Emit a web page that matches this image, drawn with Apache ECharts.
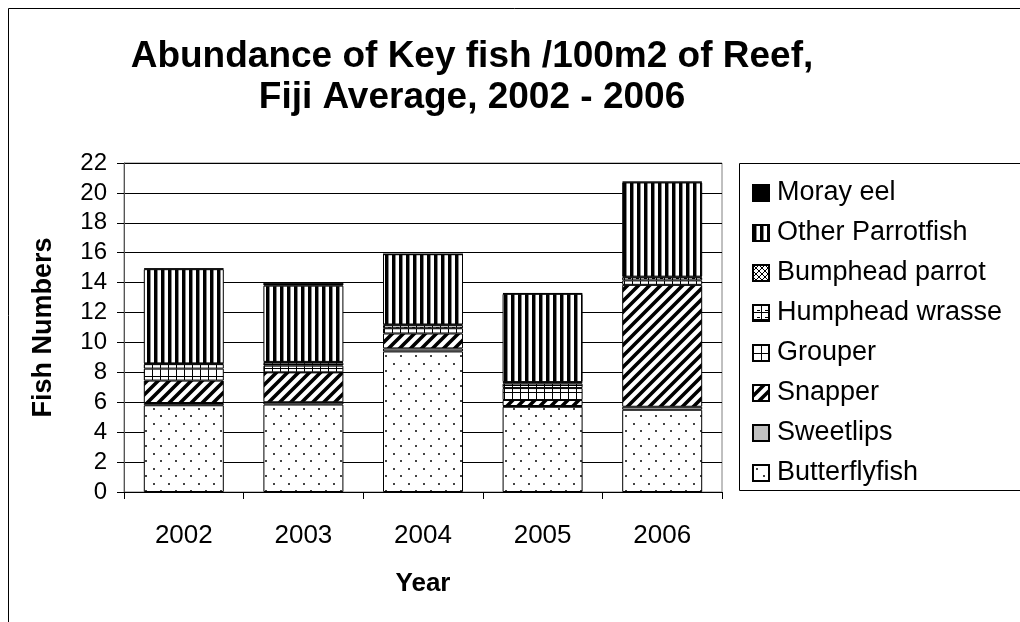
<!DOCTYPE html>
<html>
<head>
<meta charset="utf-8">
<script src="https://cdn.jsdelivr.net/npm/echarts@6/dist/echarts.min.js"></script>
<style>
  html, body { margin: 0; padding: 0; background: #fff; }
  #chart { width: 1020px; height: 622px; }
</style>
</head>
<body>
<div id="chart"></div>
<script>
const years = ['2002', '2003', '2004', '2005', '2006']
// stacked from the bottom up
const butterflyfish = [5.8, 5.85, 9.4, 5.7, 5.5]
const sweetlips = [0.15, 0.15, 0.2, 0.05, 0.2]
const snapper = [1.5, 2.0, 1.0, 0.4, 8.15]
const grouper = [0.8, 0.45, 0.35, 0.8, 0.3]
const humpheadWrasse = [0.3, 0.2, 0.2, 0.3, 0.2]
const bumpheadParrot = [0.05, 0.05, 0.05, 0.1, 0.05]
const otherParrotfish = [6.3, 5.1, 4.7, 5.9, 6.3]
const morayEel = [0.05, 0.2, 0.0, 0.05, 0.05]
const legendOrder = ['Moray eel', 'Other Parrotfish', 'Bumphead parrot', 'Humphead wrasse', 'Grouper', 'Snapper', 'Sweetlips', 'Butterflyfish']

const FONT = 'Liberation Sans, Arial, sans-serif'

// little canvas tiles used as fill patterns
function tile (w, h, draw) {
    const c = document.createElement('canvas')
    c.width = w
    c.height = h
    const ctx = c.getContext('2d')
    ctx.fillStyle = '#fff'
    ctx.fillRect(0, 0, w, h)
    draw(ctx)
    return { image: c, repeat: 'repeat' }
}

const dots = tile(15, 15, ctx => {
    ctx.fillStyle = '#444'
    ctx.fillRect(3, 3, 2, 2)
    ctx.fillRect(10, 10, 2, 2)
})
const diag = tile(11, 11, ctx => {
    ctx.strokeStyle = '#000'
    ctx.lineWidth = 3.6
    ctx.beginPath()
    ctx.moveTo(-2, 13); ctx.lineTo(13, -2)
    ctx.moveTo(-2, 2); ctx.lineTo(2, -2)
    ctx.moveTo(9, 13); ctx.lineTo(13, 9)
    ctx.stroke()
})
const grid = tile(8, 8, ctx => {
    ctx.fillStyle = '#000'
    ctx.fillRect(0, 0, 8, 1)
    ctx.fillRect(0, 0, 1, 8)
})
const boxes = tile(8, 7, ctx => {
    ctx.fillStyle = '#000'
    ctx.fillRect(0, 0, 8, 1)
    ctx.fillRect(0, 0, 1, 7)
    ctx.fillRect(4, 5, 3, 1)
})
const cross = tile(6, 6, ctx => {
    ctx.strokeStyle = '#000'
    ctx.lineWidth = 1
    ctx.beginPath()
    ctx.moveTo(0, 0); ctx.lineTo(6, 6)
    ctx.moveTo(6, 0); ctx.lineTo(0, 6)
    ctx.stroke()
})
const vstripes = tile(7, 4, ctx => {
    ctx.fillStyle = '#000'
    ctx.fillRect(0, 0, 3, 4)
    ctx.fillStyle = '#888'
    ctx.fillRect(3, 0, 1, 4)
})

function bar (name, data, color) {
    return {
        name: name,
        type: 'bar',
        stack: 'fish',
        barWidth: 80,
        data: data,
        itemStyle: { color: color, borderColor: '#000', borderWidth: 1 }
    }
}

const chartInstance = echarts.init(document.getElementById('chart'), null, { renderer: 'canvas' })
const option = {
    animation: false,
    backgroundColor: '#fff',
    textStyle: { fontFamily: FONT },
    graphic: [
        {
            type: 'rect',
            shape: { x: 8.5, y: 8.5, width: 1100, height: 1000 },
            style: { fill: 'none', stroke: '#000', lineWidth: 1 },
            silent: true
        },
        {
            type: 'rect',
            shape: { x: 739.5, y: 163.5, width: 400, height: 327 },
            style: { fill: '#fff', stroke: '#000', lineWidth: 1 },
            silent: true,
            z: -1
        },
        {
            type: 'text',
            x: 472,
            y: 36,
            style: {
                text: 'Abundance of Key fish /100m2 of Reef,\nFiji Average, 2002 - 2006',
                font: 'bold 37px ' + FONT,
                fill: '#000',
                align: 'center',
                lineHeight: 41
            },
            silent: true
        }
    ],
    grid: {
        left: 124,
        right: 298,
        top: 163,
        bottom: 130,
        show: true,
        borderColor: '#808080',
        borderWidth: 1
    },
    legend: {
        orient: 'vertical',
        left: 747,
        top: 174,
        icon: 'rect',
        itemWidth: 16,
        itemHeight: 16,
        itemGap: 12,
        data: legendOrder,
        textStyle: { fontSize: 27, color: '#000', fontFamily: FONT, lineHeight: 28, padding: [0, 0, 0, 3] }
    },
    xAxis: {
        type: 'category',
        data: years,
        name: 'Year',
        nameLocation: 'middle',
        nameGap: 79,
        nameTextStyle: { fontSize: 26, fontWeight: 'bold', color: '#000' },
        axisLine: { lineStyle: { color: '#000' } },
        axisTick: { show: true, length: 7, lineStyle: { color: '#000' } },
        axisLabel: { fontSize: 26, color: '#000', margin: 31 }
    },
    yAxis: {
        type: 'value',
        min: 0,
        max: 22,
        interval: 2,
        name: 'Fish Numbers',
        nameLocation: 'middle',
        nameGap: 67,
        nameTextStyle: { fontSize: 27, fontWeight: 'bold', color: '#000' },
        axisLine: { show: true, lineStyle: { color: '#555' } },
        axisTick: { show: true, length: 7, lineStyle: { color: '#000' } },
        axisLabel: { fontSize: 24, color: '#000', margin: 17 },
        splitLine: { lineStyle: { color: '#000' } }
    },
    series: [
        bar('Butterflyfish', butterflyfish, dots),
        bar('Sweetlips', sweetlips, '#c0c0c0'),
        bar('Snapper', snapper, diag),
        bar('Grouper', grouper, grid),
        bar('Humphead wrasse', humpheadWrasse, boxes),
        bar('Bumphead parrot', bumpheadParrot, cross),
        bar('Other Parrotfish', otherParrotfish, vstripes),
        bar('Moray eel', morayEel, '#000')
    ]
}
chartInstance.setOption(option)
</script>
</body>
</html>
